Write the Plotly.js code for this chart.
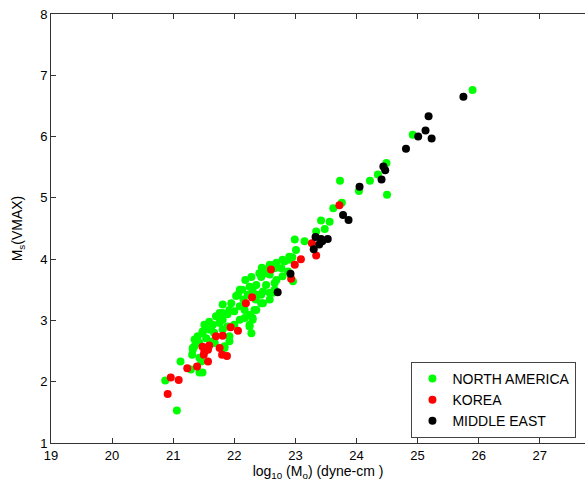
<!DOCTYPE html>
<html>
<head>
<meta charset="utf-8">
<script src="https://cdn.plot.ly/plotly-3.0.1.min.js"></script>
<style>html,body{margin:0;padding:0;background:#fff;}#chart{width:585px;height:481px;}</style>
</head>
<body>
<div id="chart"></div>
<script>
// NORTH AMERICA
const naX = [22.28,22.44,22.58,22.69,22.52,22.36,22.30,22.47,22.63,22.38,22.58,22.44,22.03,21.95,21.81,22.09,21.92,22.00,22.33,22.25,
  22.17,22.30,21.81,21.70,21.76,21.65,21.89,21.81,21.59,21.48,21.40,21.35,21.54,21.65,21.43,21.32,22.25,22.28,22.66,22.77,
  22.52,22.88,22.58,22.82,22.69,22.90,22.95,23.01,22.99,23.15,23.34,23.42,23.56,23.48,23.62,23.76,23.73,24.04,24.22,24.35,
  24.49,24.50,24.92,25.90,22.96,21.12,21.43,21.48,21.29,20.87,21.06,21.32,21.31,21.68,21.84,21.92,21.46,22.06,22.25,22.79,
  22.90,22.66,22.79,22.36,22.47,21.92,21.84,21.43,21.62,21.76,22.15,22.13,22.18,22.45,
  21.35,21.48,21.76,21.81,22.41,22.52,22.66,22.25,22.30,22.44,22.58,22.09,22.00,21.89,22.17,21.59,21.51,21.67,22.09,22.22,
  22.35,22.66];
const naY = [3.71,3.71,3.75,3.66,3.58,3.58,3.50,3.47,3.45,3.42,3.34,3.28,3.40,3.28,3.26,3.23,3.17,3.15,3.17,3.09,
  3.04,3.01,3.01,3.07,2.96,2.93,2.90,2.85,2.85,2.79,2.74,2.69,2.71,2.66,2.63,2.55,2.93,2.79,3.85,3.85,
  3.77,3.80,3.91,3.96,3.94,3.99,4.03,4.15,4.32,4.29,4.45,4.63,4.61,4.49,4.83,4.92,5.28,5.11,5.28,5.38,
  5.57,5.05,6.03,6.76,3.64,2.33,2.15,2.15,2.20,2.02,1.53,2.52,2.44,2.63,2.58,2.66,2.33,3.42,3.55,3.99,
  4.04,3.61,3.72,3.17,3.28,2.74,2.55,2.39,2.85,3.12,3.34,3.50,3.66,3.86,
  2.58,2.82,2.98,3.12,3.77,3.83,3.91,2.90,3.04,3.42,3.45,3.01,2.93,3.10,3.17,2.98,2.93,2.80,3.50,3.42,
  3.34,3.50];
// KOREA
const krX = [23.72,23.27,23.34,23.09,22.99,22.60,22.93,22.29,22.19,21.94,22.06,21.70,21.81,21.48,21.59,21.76,21.51,21.57,21.80,21.88,
  21.57,21.39,21.23,20.96,21.09,20.91,21.50];
const krY = [4.88,4.26,4.06,4.00,3.91,3.83,3.68,3.38,3.28,2.89,2.83,2.74,2.75,2.57,2.59,2.55,2.49,2.52,2.44,2.42,
  2.33,2.25,2.22,2.07,2.03,1.80,2.44];
// MIDDLE EAST
const meX = [25.75,25.18,25.13,25.01,25.23,24.81,24.44,24.47,24.41,24.05,23.78,23.87,23.33,23.42,23.53,23.39,23.30,22.92,22.71,23.44];
const meY = [6.65,6.33,6.10,6.00,5.97,5.80,5.51,5.45,5.30,5.18,4.72,4.64,4.36,4.33,4.33,4.24,4.16,3.76,3.46,4.29];

const seriesNames = ['NORTH AMERICA','KOREA','MIDDLE EAST'];
const seriesColors = ['#00ff00','#ff0000','#000000'];
const xs = [naX, krX, meX], ys = [naY, krY, meY];

const traces = xs.map((x, i) => ({
  x: x, y: ys[i], type: 'scatter', mode: 'markers', name: seriesNames[i],
  marker: {color: seriesColors[i], size: 8, line: {width: 0}}
}));

const fam = 'Liberation Sans, Arial, Helvetica, sans-serif';
const font = {family: fam, size: 13, color: '#000'};
const tfont = {family: fam, size: 14, color: '#000'};
const layout = {
  width: 585, height: 481,
  margin: {l: 51, r: 0, t: 14, b: 38, pad: 0},
  paper_bgcolor: '#fff', plot_bgcolor: '#fff',
  font: font,
  showlegend: true,
  legend: {x: 0.675, y: 0.012, xanchor: 'left', yanchor: 'bottom', bgcolor: '#fff',
    bordercolor: '#444', borderwidth: 1, font: {family: fam, size: 14, color: '#000'}},
  xaxis: {range: [19, 27.74], tickvals: [19,20,21,22,23,24,25,26,27], ticks: 'inside', ticklen: 5,
    tickcolor: '#333', showline: true, linecolor: '#333', linewidth: 1, mirror: 'ticks',
    showgrid: false, zeroline: false,
    title: {text: 'log<sub>10</sub> (M<sub>o</sub>) (dyne-cm )', font: tfont, standoff: 1}},
  yaxis: {range: [1, 8], tickvals: [1,2,3,4,5,6,7,8], ticks: 'inside', ticklen: 5,
    tickcolor: '#333', showline: true, linecolor: '#333', linewidth: 1, mirror: false,
    showgrid: false, zeroline: false,
    title: {text: 'M<sub>s</sub>(VMAX)', font: tfont, standoff: 14}}
};
Plotly.newPlot('chart', traces, layout, {displayModeBar: false, staticPlot: true});
</script>
</body>
</html>
